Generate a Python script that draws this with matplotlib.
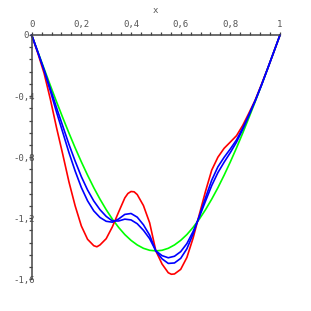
import numpy as np
import matplotlib
matplotlib.use("Agg")
import matplotlib.pyplot as plt
from matplotlib.ticker import MultipleLocator

# sample positions along x
x = [0, 0.025, 0.05, 0.075, 0.1, 0.125, 0.15, 0.175, 0.2, 0.225, 0.25,
     0.275, 0.3, 0.325, 0.35, 0.375, 0.4, 0.425, 0.45, 0.475, 0.5,
     0.525, 0.55, 0.575, 0.6, 0.625, 0.65, 0.675, 0.7, 0.725, 0.75,
     0.775, 0.8, 0.825, 0.85, 0.875, 0.9, 0.925, 0.95, 0.975, 1.0]

green = [0, -0.111, -0.221, -0.330, -0.437, -0.541, -0.642, -0.739, -0.831, -0.918, -1.000,
         -1.075, -1.144, -1.206, -1.260, -1.307, -1.345, -1.375, -1.397, -1.410, -1.414,
         -1.410, -1.397, -1.375, -1.345, -1.307, -1.260, -1.206, -1.144, -1.075, -1.000,
         -0.918, -0.831, -0.739, -0.642, -0.541, -0.437, -0.330, -0.221, -0.111, 0]

# red has a few extra samples around its turning points
red_x = [0, 0.025, 0.05, 0.075, 0.1, 0.125, 0.15, 0.175, 0.2, 0.225, 0.25, 0.2625,
         0.275, 0.3, 0.325, 0.35, 0.375, 0.3875, 0.4, 0.4125, 0.425, 0.45, 0.475, 0.5,
         0.525, 0.55, 0.5625, 0.575, 0.6, 0.625, 0.65, 0.675, 0.7, 0.725, 0.75,
         0.775, 0.8, 0.825, 0.85, 0.875, 0.9, 0.925, 0.95, 0.975, 1.0]
red = [0, -0.121, -0.251, -0.420, -0.607, -0.781, -0.962, -1.119, -1.251, -1.338, -1.380, -1.387,
       -1.375, -1.334, -1.256, -1.160, -1.067, -1.038, -1.025, -1.027, -1.045, -1.117, -1.230, -1.414,
       -1.500, -1.557, -1.567, -1.565, -1.535, -1.457, -1.330, -1.176, -1.024, -0.885, -0.800,
       -0.742, -0.701, -0.659, -0.592, -0.511, -0.427, -0.325, -0.221, -0.111, 0]

blue_a = [0, -0.115, -0.233, -0.366, -0.505, -0.637, -0.770, -0.891, -0.999, -1.086, -1.152,
          -1.195, -1.220, -1.226, -1.205, -1.175, -1.169, -1.193, -1.243, -1.311, -1.414,
          -1.466, -1.496, -1.493, -1.463, -1.400, -1.303, -1.186, -1.066, -0.951, -0.863,
          -0.801, -0.746, -0.687, -0.609, -0.521, -0.430, -0.330, -0.221, -0.111, 0]

blue_b = [0, -0.113, -0.228, -0.351, -0.476, -0.596, -0.716, -0.826, -0.928, -1.015, -1.087,
          -1.144, -1.188, -1.218, -1.218, -1.206, -1.211, -1.236, -1.279, -1.334, -1.414,
          -1.445, -1.459, -1.449, -1.419, -1.366, -1.287, -1.192, -1.088, -0.986, -0.901,
          -0.833, -0.770, -0.701, -0.618, -0.527, -0.432, -0.330, -0.221, -0.111, 0]

xticks = [0, 0.2, 0.4, 0.6, 0.8, 1.0]
xticklabels = ["0", "0,2", "0,4", "0,6", "0,8", "1"]
yticks = [0, -0.4, -0.8, -1.2, -1.6]
yticklabels = ["0 ", "-0,4", "-0,8", "-1,2", "-1,6"]

W, H = 311, 311
fig = plt.figure(figsize=(W / 100, H / 100), dpi=100)
left, right, top, bottom = 31.7, 280.0, 35.0, 279.3
ax = fig.add_axes([left / W, 1 - bottom / H, (right - left) / W, (bottom - top) / H])

lw = 1.2
ax.plot(x, green, color="#00ff00", lw=lw, clip_on=False)
ax.plot(red_x, red, color="#ff0000", lw=lw, clip_on=False)
ax.plot(x, blue_b, color="#0000ff", lw=lw, clip_on=False)
ax.plot(x, blue_a, color="#0000ff", lw=lw, clip_on=False)

ax.set_xlim(0, 1)
ax.set_ylim(-1.6, 0)

axcol = "#444444"
for s in ["bottom", "right"]:
    ax.spines[s].set_visible(False)
for s in ["top", "left"]:
    ax.spines[s].set_color(axcol)
    ax.spines[s].set_linewidth(1.1)

ax.xaxis.tick_top()
ax.set_xticks(xticks)
ax.set_xticklabels(xticklabels)
ax.xaxis.set_minor_locator(MultipleLocator(0.04))
ax.set_yticks(yticks)
ax.set_yticklabels(yticklabels)
ax.yaxis.set_minor_locator(MultipleLocator(0.08))

ax.tick_params(axis="both", which="both", direction="out", length=2.3,
               width=0.9, color=axcol, labelcolor="#555555")
ax.tick_params(axis="x", which="major", pad=2, labelsize=6.5)
ax.tick_params(axis="y", which="major", pad=-4.5, labelsize=6.5)
for lab in ax.get_xticklabels() + ax.get_yticklabels():
    lab.set_family("DejaVu Sans Mono")

fig.text(155 / W, 1 - 10.7 / H, "x", ha="center", va="center",
         family="DejaVu Sans Mono", fontsize=6.5, color="#555555")

fig.savefig("out.png", dpi=100)
